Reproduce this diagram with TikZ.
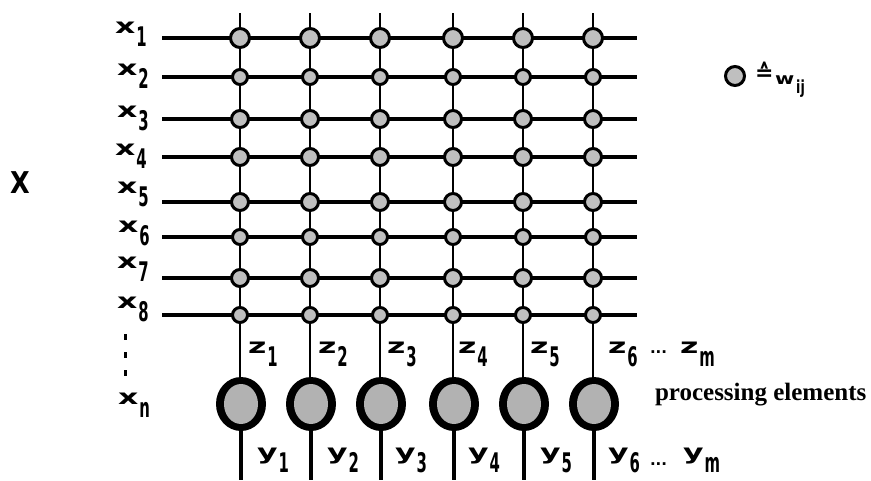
\documentclass[tikz,border=0pt]{standalone}
\usepackage{fontspec}
\usepackage{graphicx}
\setmainfont{Liberation Serif}
\newfontfamily\labfont{DejaVu Sans}
\usetikzlibrary{shapes.geometric,backgrounds}

\newcommand\Lbl[2]{{\labfont\bfseries\scalebox{1.5}[1]{\fontsize{21}{21}\selectfont #1}\kern1pt\raisebox{-13pt}{\scalebox{0.55}[1]{\fontsize{27}{27}\selectfont #2}}}}
\newcommand\LblS[2]{{\labfont\bfseries\scalebox{1.3}[1]{\fontsize{16}{16}\selectfont #1}\kern2pt\raisebox{-9pt}{\scalebox{0.7}[1]{\fontsize{18}{18}\selectfont #2}}}}

\tikzset{
  lab/.style={anchor=base west, inner sep=0pt, outer sep=0pt},
  wt/.style={circle, draw=black, line width=3pt, fill=gray!50, inner sep=0pt, minimum size=#1},
  pe/.style={ellipse, fill=black, inner sep=0pt, minimum width=50pt, minimum height=54pt,
     path picture={\fill[gray!60] (path picture bounding box.center) ellipse (17pt and 20pt);}},
  rowline/.style={line width=4pt},
  colline/.style={line width=2pt},
  stubline/.style={line width=2.5pt},
  outline/.style={line width=4.5pt},
  dotmark/.style={line width=3pt}
}

\begin{document}
\begin{tikzpicture}[x=1pt,y=-1pt]
\useasboundingbox (0,0) rectangle (871,480);

% weight nodes
\foreach \r/\yy/\s in {1/38/19,2/77/15,3/119/17,4/157/17,5/202/17,6/237/15,7/278/17,8/315/15} {
  \coordinate (rs-\r) at (162,\yy);
  \coordinate (re-\r) at (637,\yy);
  \foreach \c/\xx in {1/240,2/310,3/380,4/453,5/523,6/593} {
    \node[wt=\s pt] (w-\r-\c) at (\xx,\yy) {};
  }
}

% processing elements
\foreach \c/\xx in {1/240,2/310,3/380,4/453,5/523,6/593} {
  \coordinate (top-\c) at (\xx,13);
  \node[pe] (pe-\c) at (\xx+1,404) {};
  \coordinate (bot-\c) at (\xx+1,480);
}

\begin{scope}[on background layer]
  \foreach \r in {1,...,8} \draw[rowline] (rs-\r) -- (re-\r);
  \foreach \c in {1,...,6} {
    \draw[stubline] (top-\c) -- (w-1-\c.center);
    \draw[colline] (w-1-\c.center) -- (w-8-\c.center);
    \draw[colline] (w-8-\c.center) -- (w-8-\c.center |- pe-\c.north);
    \draw[outline] (pe-\c.south) -- (bot-\c);
  }
\end{scope}

% x labels
\node[lab] (x1) at (115,33) {\Lbl{x}{1}};
\node[lab] (x2) at (117,75) {\Lbl{x}{2}};
\node[lab] (x3) at (117,117) {\Lbl{x}{3}};
\node[lab] (x4) at (115,155) {\Lbl{x}{4}};
\node[lab] (x5) at (117,193) {\Lbl{x}{5}};
\node[lab] (x6) at (118,232) {\Lbl{x}{6}};
\node[lab] (x7) at (117,268) {\Lbl{x}{7}};
\node[lab] (x8) at (117,308) {\Lbl{x}{8}};
\node[lab] (xn) at (118,404) {\Lbl{x}{n}};
\draw[dotmark] (125,334) -- (125,340);
\draw[dotmark] (125,352) -- (125,358);
\draw[dotmark] (125,370) -- (125,376);

% big X
\node (bigx) at (20,183) {\labfont\bfseries\scalebox{0.85}[1]{\fontsize{30}{30}\selectfont X}};

% z labels
\node[lab] (z1) at (248,353) {\Lbl{z}{1}};
\node[lab] (z2) at (318,353) {\Lbl{z}{2}};
\node[lab] (z3) at (387,353) {\Lbl{z}{3}};
\node[lab] (z4) at (458,353) {\Lbl{z}{4}};
\node[lab] (z5) at (530,353) {\Lbl{z}{5}};
\node[lab] (z6) at (608,353) {\Lbl{z}{6}};
\node[lab] (zd) at (650,353) {\labfont\bfseries\fontsize{15}{15}\selectfont ...};
\node[lab] (zm) at (680,353) {\Lbl{z}{m}};

% y labels
\node[lab] (y1) at (257,459) {\Lbl{y}{1}};
\node[lab] (y2) at (327,459) {\Lbl{y}{2}};
\node[lab] (y3) at (395,459) {\Lbl{y}{3}};
\node[lab] (y4) at (468,459) {\Lbl{y}{4}};
\node[lab] (y5) at (540,459) {\Lbl{y}{5}};
\node[lab] (y6) at (608,459) {\Lbl{y}{6}};
\node[lab] (yd) at (650,465) {\labfont\bfseries\fontsize{15}{15}\selectfont ...};
\node[lab] (ym) at (683,459) {\Lbl{y}{m}};

% processing elements label
\node[lab] (pel) at (655,400) {\fontsize{25}{25}\selectfont\bfseries processing elements};

% legend
\node[wt=19pt] (leg) at (735,76) {};
\node[lab] (eq) at (755,80) {\labfont\bfseries\fontsize{22}{22}\selectfont ≙};
\node[lab] (wij) at (775,84) {\LblS{w}{ij}};
\end{tikzpicture}
\end{document}
